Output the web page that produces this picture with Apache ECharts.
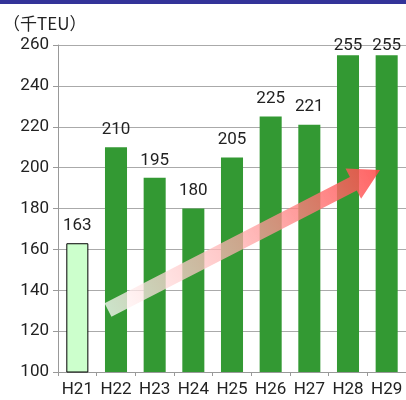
<!DOCTYPE html>
<html>
<head>
<meta charset="utf-8">
<script src="https://cdn.jsdelivr.net/npm/echarts@6/dist/echarts.min.js"></script>
<style>
  html, body { margin: 0; padding: 0; background: #fff; }
  #topbar { position: absolute; left: 0; top: 0; width: 406px; height: 4px; background: #333399; }
  #chart { width: 406px; height: 400px; }
</style>
</head>
<body>
<div id="topbar"></div>
<div id="chart"></div>
<script>
// 年度（平成）
var years = ["H21", "H22", "H23", "H24", "H25", "H26", "H27", "H28", "H29"];
// 取扱量（千TEU）
var volumes = [163, 210, 195, 180, 205, 225, 221, 255, 255];
var yTicks = [100, 120, 140, 160, 180, 200, 220, 240, 260];

var FONT = "Roboto, 'Noto Sans CJK JP', sans-serif";
var chart = echarts.init(document.getElementById("chart"));

var barData = volumes.map(function (v, i) {
  var item = { value: v };
  if (i === 0) {
    item.itemStyle = { color: "#ccffcc", borderColor: "#000", borderWidth: 1 };
  }
  if (v >= 250) {
    item.label = { distance: 1 };
  }
  return item;
});

chart.setOption({
  animation: false,
  grid: { left: 58, right: 0, top: 45, bottom: 28 },
  title: {
    text: "（千TEU）",
    left: -2,
    top: 10,
    textStyle: { fontFamily: "'Noto Sans CJK JP', sans-serif", fontSize: 17, fontWeight: "normal", color: "#222" }
  },
  xAxis: {
    type: "category",
    data: years,
    axisLine: { lineStyle: { color: "#999" } },
    axisTick: { show: true, length: 4, lineStyle: { color: "#999" } },
    axisLabel: { interval: 0, fontFamily: FONT, fontSize: 17, color: "#222", margin: 9 }
  },
  yAxis: {
    type: "value",
    min: yTicks[0],
    max: yTicks[yTicks.length - 1],
    interval: 20,
    axisLine: { show: true, lineStyle: { color: "#999" } },
    axisTick: { show: true, length: 5, lineStyle: { color: "#999" } },
    axisLabel: { fontFamily: FONT, fontSize: 17, color: "#222", margin: 9 },
    splitLine: { lineStyle: { color: "#aaa" } }
  },
  series: [{
    type: "bar",
    data: barData,
    barWidth: "57%",
    itemStyle: { color: "#339933" },
    label: {
      show: true,
      position: "top",
      distance: 9,
      fontFamily: FONT,
      fontSize: 17,
      color: "#222"
    }
  }]
});

// 増加傾向の矢印（装飾）
(function () {
  var tail = [108, 310], tip = [380, 170];
  var dx = tip[0] - tail[0], dy = tip[1] - tail[1];
  var len = Math.sqrt(dx * dx + dy * dy);
  var ux = dx / len, uy = dy / len, nx = -uy, ny = ux;
  var headLen = 30, headHalf = 17, shaftHalf = 7.5;
  var bx = tip[0] - ux * headLen, by = tip[1] - uy * headLen;
  var pts = [
    [tail[0] + nx * shaftHalf, tail[1] + ny * shaftHalf],
    [bx + nx * shaftHalf, by + ny * shaftHalf],
    [bx + nx * headHalf, by + ny * headHalf],
    tip,
    [bx - nx * headHalf, by - ny * headHalf],
    [bx - nx * shaftHalf, by - ny * shaftHalf],
    [tail[0] - nx * shaftHalf, tail[1] - ny * shaftHalf]
  ];
  chart.setOption({
    graphic: [{
      type: "polygon",
      z: 100,
      shape: { points: pts },
      style: {
        fill: new echarts.graphic.LinearGradient(0, 1, 1, 0, [
          { offset: 0, color: "rgba(255,255,255,0.75)" },
          { offset: 0.5, color: "rgba(255,170,170,0.75)" },
          { offset: 1, color: "rgba(255,70,70,0.85)" }
        ])
      }
    }]
  });
})();
</script>
</body>
</html>
